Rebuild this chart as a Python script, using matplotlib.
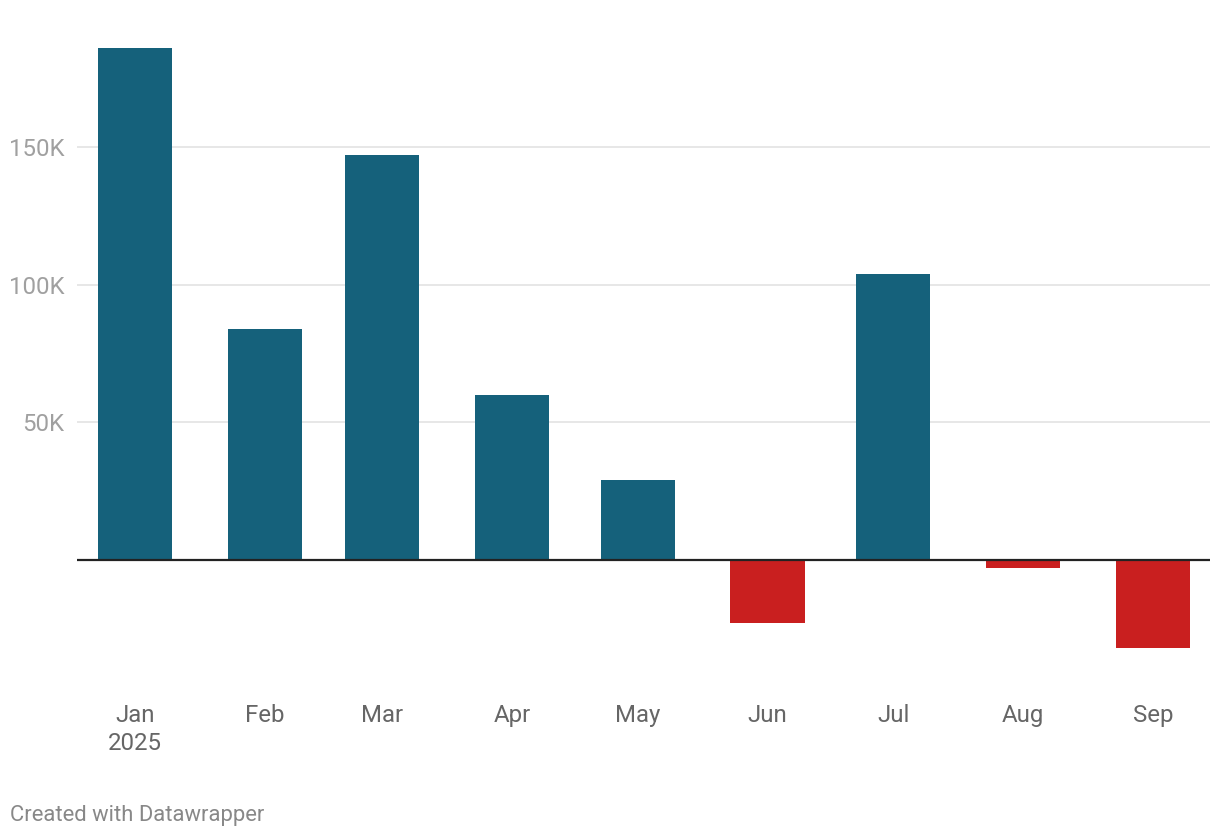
import datetime as dt
import matplotlib
matplotlib.use("Agg")
import matplotlib.pyplot as plt
import matplotlib.dates as mdates

plt.rcParams['font.family'] = ['Roboto', 'DejaVu Sans']

# monthly values (thousands)
months = [dt.date(2025, m, 1) for m in range(1, 10)]
month_labels = ["Jan\n2025", "Feb", "Mar", "Apr", "May", "Jun", "Jul", "Aug", "Sep"]
values = [186, 83.9, 147.1, 59.9, 29.1, -22.9, 103.9, -2.9, -32.0]
yticks = [50, 100, 150]
ytick_labels = ["50K", "100K", "150K"]

BLUE = "#15617b"
RED = "#c91f1f"

fig = plt.figure(figsize=(12.2, 8.38), dpi=100)
ax = fig.add_axes([77 / 1220, 1 - 680 / 838, (1210 - 77) / 1220, 650 / 838])

x = mdates.date2num(months)
colors = [BLUE if v >= 0 else RED for v in values]
ax.bar(x, values, width=17.7, color=colors, zorder=2)

ax.set_xlim(x[0] - 13.8, x[0] + 256.6)
ax.set_ylim(-43.6, 192.5)

ax.set_yticks(yticks)
ax.set_yticklabels(ytick_labels)
ax.grid(axis="y", color="#e3e3e3", linewidth=1.2, zorder=0)
ax.axhline(0, color="#222222", linewidth=1.6, zorder=3)

ax.set_xticks(x)
ax.set_xticklabels(month_labels, linespacing=1.3)

for s in ax.spines.values():
    s.set_visible(False)
ax.tick_params(axis="y", length=0, pad=9, labelsize=17.3, labelcolor="#a0a0a0")
ax.tick_params(axis="x", length=0, pad=17, labelsize=17.3, labelcolor="#666666")

fig.text(10 / 1220, 1 - 815 / 838, "Created with Datawrapper", fontsize=15.8,
         color="#888888", va="center", ha="left")

fig.savefig("out.png", dpi=100)
